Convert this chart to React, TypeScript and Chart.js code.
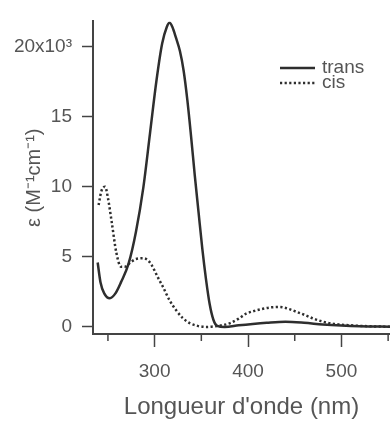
import React, { useEffect, useRef } from 'react';
import { Chart, registerables } from 'chart.js';

Chart.register(...registerables);

// ---- data ----
const transWavelength = [239, 242, 246, 252, 258, 264, 272, 280, 288, 295, 302, 308, 313, 316, 319, 323, 327, 331, 335, 339, 343, 347, 351, 355, 359, 363, 367, 375, 390, 405, 420, 440, 460, 480, 500, 520, 552];
const transEpsilon = [4.6, 3.2, 2.4, 2.05, 2.4, 3.2, 4.5, 6.8, 10.0, 13.8, 17.6, 20.2, 21.4, 21.7, 21.4, 20.6, 19.7, 18.3, 16.2, 13.6, 10.8, 8.2, 5.6, 3.4, 1.6, 0.5, 0.08, 0.0, 0.12, 0.22, 0.3, 0.37, 0.3, 0.18, 0.1, 0.05, 0.02];

const cisWavelength = [240, 243, 247, 250, 254, 259, 264, 268, 274, 280, 288, 293, 297, 303, 309, 316, 323, 330, 338, 346, 356, 365, 372, 381, 390, 398, 407, 416, 425, 434, 443, 452, 461, 470, 479, 488, 497, 505, 520, 535, 552];
const cisEpsilon = [8.7, 9.7, 10.0, 9.2, 7.5, 5.3, 4.3, 4.3, 4.6, 4.85, 4.9, 4.75, 4.4, 3.6, 2.85, 1.9, 1.2, 0.65, 0.26, 0.08, 0.0, 0.05, 0.12, 0.28, 0.6, 0.95, 1.15, 1.3, 1.4, 1.43, 1.3, 1.08, 0.85, 0.6, 0.4, 0.26, 0.18, 0.14, 0.08, 0.04, 0.02];

const seriesLabels = ['trans', 'cis'];
const xMajorTicks = [300, 400, 500];
const xMinorTicks = [250, 350, 450, 550];
const xTickLabels = ['300', '400', '500'];
const yTicks = [0, 5, 10, 15, 20];
const yTickLabels = ['0', '5', '10', '15', '20x10³'];
const xTitle = "Longueur d'onde (nm)";
const yTitle = 'ε (M⁻¹cm⁻¹)';

const FONT = "'Liberation Sans', Arial, sans-serif";
const TEXT = '#555555';
const AXIS = '#444444';
const LINE = '#2e2e2e';

const minorTickPlugin = {
  id: 'minorTicks',
  afterDraw(chart: any) {
    const s = chart.scales.x;
    const ctx = chart.ctx;
    ctx.save();
    ctx.strokeStyle = AXIS;
    ctx.lineWidth = 1.5;
    ctx.beginPath();
    xMinorTicks.forEach((v) => {
      const px = s.getPixelForValue(v);
      if (px >= s.left - 1 && px <= s.right + 1) {
        ctx.moveTo(px, s.top);
        ctx.lineTo(px, s.top + 7);
      }
    });
    ctx.stroke();
    ctx.restore();
  },
};

const legendPlugin = {
  id: 'insideLegend',
  afterDraw(chart: any) {
    const ctx = chart.ctx;
    ctx.save();
    chart.data.datasets.forEach((ds: any, i: number) => {
      const y = 68 + i * 15;
      ctx.beginPath();
      ctx.setLineDash(ds.borderDash || []);
      ctx.lineWidth = ds.borderWidth;
      ctx.strokeStyle = ds.borderColor;
      ctx.moveTo(280, y);
      ctx.lineTo(315, y);
      ctx.stroke();
      ctx.setLineDash([]);
      ctx.fillStyle = TEXT;
      ctx.font = `19px ${FONT}`;
      ctx.textBaseline = 'middle';
      ctx.textAlign = 'left';
      ctx.fillText(ds.label, 322, y);
    });
    ctx.restore();
  },
};

export default function App() {
  const ref = useRef<HTMLCanvasElement | null>(null);

  useEffect(() => {
    if (!ref.current) return;
    const chart = new Chart(ref.current, {
      type: 'line',
      data: {
        datasets: [
          {
            label: seriesLabels[0],
            data: transWavelength.map((x, i) => ({ x, y: transEpsilon[i] })),
            borderColor: LINE,
            borderWidth: 2.5,
            pointRadius: 0,
            fill: false,
            cubicInterpolationMode: 'monotone',
          },
          {
            label: seriesLabels[1],
            data: cisWavelength.map((x, i) => ({ x, y: cisEpsilon[i] })),
            borderColor: LINE,
            borderWidth: 2.5,
            borderDash: [2.2, 2.4],
            pointRadius: 0,
            fill: false,
            cubicInterpolationMode: 'monotone',
          },
        ],
      },
      options: {
        animation: false,
        responsive: false,
        layout: { padding: { top: 17, right: 0, left: 0, bottom: 0 } },
        plugins: {
          legend: { display: false },
          tooltip: { enabled: false },
        },
        scales: {
          x: {
            type: 'linear',
            min: 234,
            max: 552,
            afterFit: (s: any) => {
              s.height = 89;
            },
            afterBuildTicks: (s: any) => {
              s.ticks = xMajorTicks.map((v) => ({ value: v }));
            },
            grid: {
              drawOnChartArea: false,
              drawTicks: true,
              tickLength: 13,
              tickColor: AXIS,
              tickWidth: 1.5,
            },
            border: { display: true, color: AXIS, width: 2 },
            ticks: {
              padding: 13,
              maxRotation: 0,
              color: TEXT,
              font: { family: FONT, size: 19 },
              callback: (v: any) => {
                const i = xMajorTicks.indexOf(Number(v));
                return i >= 0 ? xTickLabels[i] : '';
              },
            },
            title: {
              display: true,
              text: xTitle,
              color: TEXT,
              font: { family: FONT, size: 24 },
              padding: { top: 0, bottom: 1 },
            },
          },
          y: {
            type: 'linear',
            min: -0.5,
            max: 21.8,
            afterFit: (s: any) => {
              s.width = 93;
            },
            afterBuildTicks: (s: any) => {
              s.ticks = yTicks.map((v) => ({ value: v }));
            },
            grid: {
              drawOnChartArea: false,
              drawTicks: true,
              tickLength: 11,
              tickColor: AXIS,
              tickWidth: 1.5,
            },
            border: { display: true, color: AXIS, width: 2 },
            ticks: {
              padding: 10,
              color: TEXT,
              font: { family: FONT, size: 19 },
              callback: (v: any) => {
                const i = yTicks.indexOf(Number(v));
                return i >= 0 ? yTickLabels[i] : '';
              },
            },
            title: {
              display: true,
              text: yTitle,
              color: TEXT,
              font: { family: FONT, size: 20 },
              padding: { top: 22, bottom: 0 },
            },
          },
        },
      },
      plugins: [minorTickPlugin, legendPlugin],
    } as any);
    return () => chart.destroy();
  }, []);

  return (
    <div style={{ position: 'absolute', left: 0, top: 0, width: 390, height: 423, background: '#fff' }}>
      <canvas ref={ref} width={390} height={423} style={{ display: 'block' }} />
    </div>
  );
}
